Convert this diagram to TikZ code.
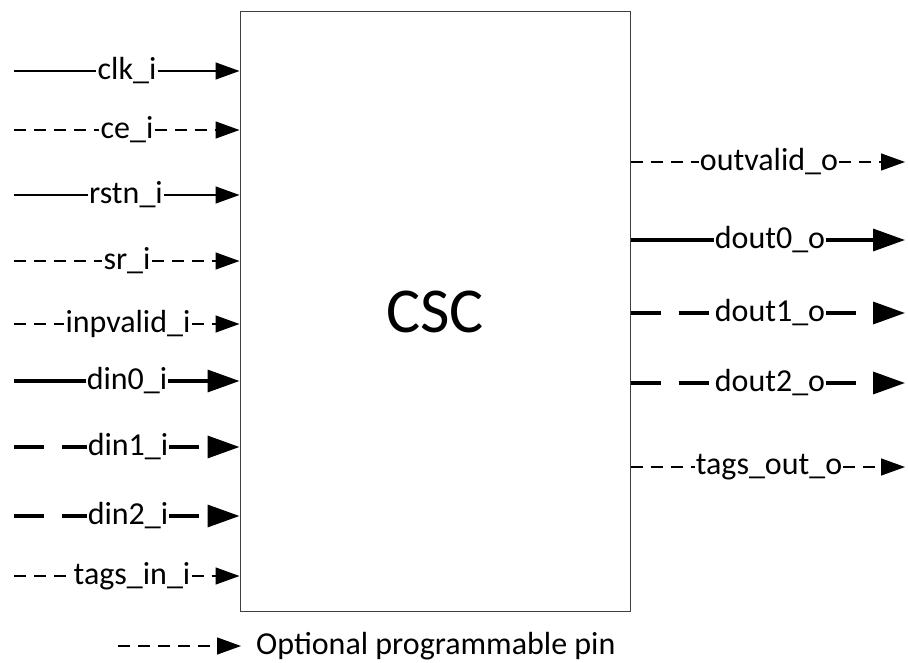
\documentclass[tikz,border=0pt]{standalone}
\usepackage{fontspec}
\setmainfont{Carlito}
\usetikzlibrary{arrows.meta}

\begin{document}
\begin{tikzpicture}[x=1pt,y=-1pt,
    >={Triangle[length=24pt,width=17pt]},
    pin/.style={font=\fontsize{32}{38}\selectfont, fill=white, inner sep=1pt},
    thinline/.style={line width=1.4pt},
    thickline/.style={line width=3.4pt, >={Triangle[length=32pt,width=22pt]}},
    thindash/.style={line width=1.4pt, dash pattern=on 12pt off 8pt},
    thickdash/.style={line width=3.4pt, dash pattern=on 30pt off 18pt,
      >={Triangle[length=32pt,width=22pt]}}]
  \useasboundingbox (0,0) rectangle (908,663);

  % block
  \node (csc) [draw=black!75, line width=1pt, minimum width=390pt, minimum height=599pt,
    font=\fontsize{64}{72}\selectfont] at (435,311.5) {CSC};

  % inputs
  \coordinate (clk_s) at (14,71);
  \coordinate (ce_s) at (14,130);
  \coordinate (rstn_s) at (14,195);
  \coordinate (sr_s) at (14,261);
  \coordinate (inpvalid_s) at (14,324);
  \coordinate (din0_s) at (14,381);
  \coordinate (din1_s) at (14,447);
  \coordinate (din2_s) at (14,516);
  \coordinate (tagsin_s) at (14,576);

  \node (clk) [pin] at (127,71) {clk\_i};
  \node (ce) [pin] at (127,130) {ce\_i};
  \node (rstn) [pin] at (126,195) {rstn\_i};
  \node (sr) [pin] at (127,261) {sr\_i};
  \node (inpvalid) [pin] at (128,324) {inpvalid\_i};
  \node (din0) [pin] at (127,381) {din0\_i};
  \node (din1) [pin] at (128,447) {din1\_i};
  \node (din2) [pin] at (128,516) {din2\_i};
  \node (tagsin) [pin] at (132,576) {tags\_in\_i};

  \draw [thinline] (clk_s) -- (clk);
  \draw [thinline,->] (clk) -- (csc.west |- clk);
  \draw [thindash] (ce_s) -- (ce);
  \draw [thindash,->] (ce) -- (csc.west |- ce);
  \draw [thinline] (rstn_s) -- (rstn);
  \draw [thinline,->] (rstn) -- (csc.west |- rstn);
  \draw [thindash] (sr_s) -- (sr);
  \draw [thindash,->] (sr) -- (csc.west |- sr);
  \draw [thindash] (inpvalid_s) -- (inpvalid);
  \draw [thindash,->] (inpvalid) -- (csc.west |- inpvalid);
  \draw [thickline] (din0_s) -- (din0);
  \draw [thickline,->] (din0) -- (csc.west |- din0);
  \draw [thickdash] (din1_s) -- (din1);
  \draw [thickdash,->] (din1) -- (csc.west |- din1);
  \draw [thickdash] (din2_s) -- (din2);
  \draw [thickdash,->] (din2) -- (csc.west |- din2);
  \draw [thindash] (tagsin_s) -- (tagsin);
  \draw [thindash,->] (tagsin) -- (csc.west |- tagsin);

  % outputs
  \coordinate (outvalid_e) at (905,162);
  \coordinate (dout0_e) at (905,240);
  \coordinate (dout1_e) at (905,313);
  \coordinate (dout2_e) at (905,383);
  \coordinate (tagsout_e) at (905,467);

  \node (outvalid) [pin] at (769,162) {outvalid\_o};
  \node (dout0) [pin] at (770,240) {dout0\_o};
  \node (dout1) [pin] at (770,313) {dout1\_o};
  \node (dout2) [pin] at (770,383) {dout2\_o};
  \node (tagsout) [pin] at (769,467) {tags\_out\_o};

  \draw [thindash] (csc.east |- outvalid) -- (outvalid);
  \draw [thindash,->] (outvalid) -- (outvalid_e);
  \draw [thickline] (csc.east |- dout0) -- (dout0);
  \draw [thickline,->] (dout0) -- (dout0_e);
  \draw [thickdash] (csc.east |- dout1) -- (dout1);
  \draw [thickdash,->] (dout1) -- (dout1_e);
  \draw [thickdash] (csc.east |- dout2) -- (dout2);
  \draw [thickdash,->] (dout2) -- (dout2_e);
  \draw [thindash] (csc.east |- tagsout) -- (tagsout);
  \draw [thindash,->] (tagsout) -- (tagsout_e);

  % legend
  \coordinate (legend_s) at (118,646);
  \coordinate (legend_e) at (241,646);
  \node (legend) [pin, anchor=west] at (255,646) {Optional programmable pin};
  \draw [thindash,->] (legend_s) -- (legend_e);
\end{tikzpicture}
\end{document}
